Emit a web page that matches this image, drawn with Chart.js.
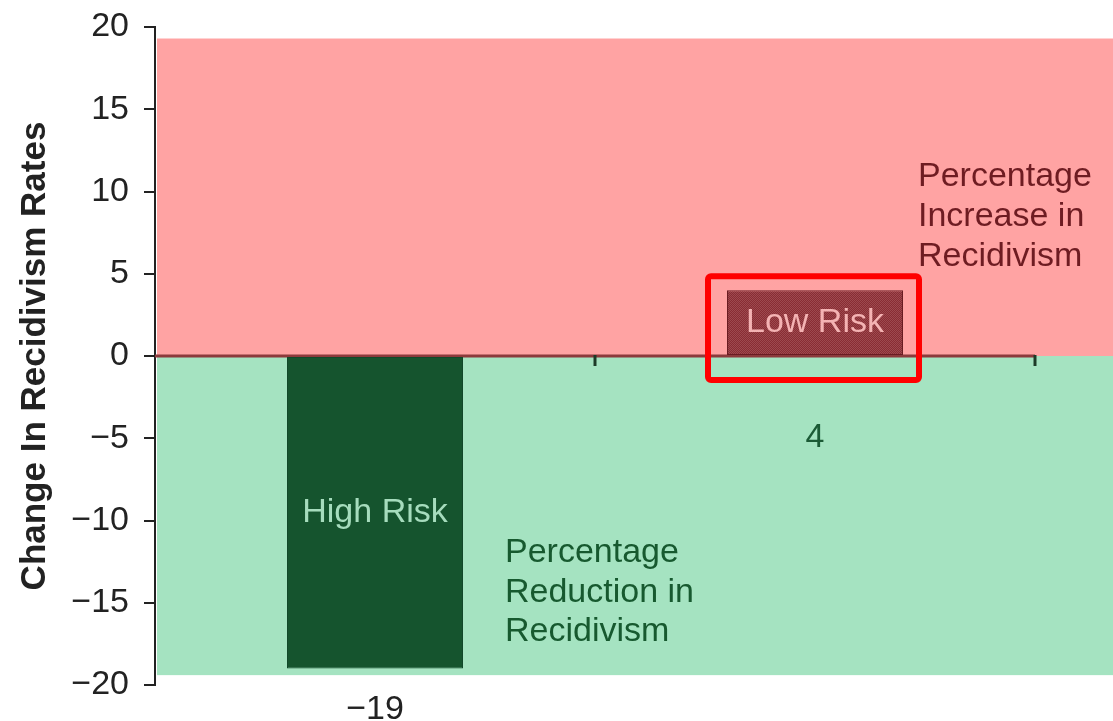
<!DOCTYPE html>
<html>
<head>
<meta charset="utf-8">
<script src="https://cdn.jsdelivr.net/npm/chart.js@4.4.0/dist/chart.umd.min.js"></script>
<style>
  html, body { margin: 0; padding: 0; background: #ffffff; }
  canvas { display: block; }
</style>
</head>
<body>
<canvas id="chart" width="1113" height="721"></canvas>
<script>
// Change in recidivism by risk group
const categories = ['High Risk', 'Low Risk'];
const recidivismChange = [-19, 4];
const yTicks = [-20, -15, -10, -5, 0, 5, 10, 15, 20];
const axisTitle = 'Change In Recidivism Rates';
const increaseNote = ['Percentage', 'Increase in', 'Recidivism'];
const reductionNote = ['Percentage', 'Reduction in', 'Recidivism'];

const FONT = '"Liberation Sans", Arial, Helvetica, sans-serif';
const minus = s => String(s).replace('-', '\u2212');

// halftone-like fill for the low-risk bar
function dotPattern(a, b) {
  const c = document.createElement('canvas');
  c.width = 2; c.height = 2;
  const g = c.getContext('2d');
  g.fillStyle = a; g.fillRect(0, 0, 2, 2);
  g.fillStyle = b; g.fillRect(0, 0, 1, 1); g.fillRect(1, 1, 1, 1);
  return g.createPattern(c, 'repeat');
}

const ctx0 = document.getElementById('chart').getContext('2d');
const lowRiskFill = dotPattern('#8a2c33', '#9c4a4f');

// shaded increase / reduction zones, zero line and boundary ticks
const zones = {
  id: 'zones',
  beforeDatasetsDraw(chart) {
    const { ctx, chartArea: a, scales: { x, y } } = chart;
    const zero = y.getPixelForValue(0);
    const top = y.getPixelForValue(19.3);
    const bottom = y.getPixelForValue(-19.4);
    const x0 = a.left + 2;
    ctx.save();
    ctx.fillStyle = '#ffa3a3';
    ctx.fillRect(x0, top, chart.width - x0, zero - top);
    ctx.fillStyle = '#a5e3c1';
    ctx.fillRect(x0, zero, chart.width - x0, bottom - zero);

    ctx.strokeStyle = '#8c3a3c';
    ctx.lineWidth = 3;
    ctx.beginPath();
    ctx.moveTo(a.left, zero);
    ctx.lineTo(a.right, zero);
    ctx.stroke();

    ctx.strokeStyle = '#1d3a28';
    ctx.lineWidth = 3;
    const edges = [];
    for (let i = 1; i < categories.length; i++) {
      edges.push((x.getPixelForValue(i - 1) + x.getPixelForValue(i)) / 2);
    }
    edges.push(a.right);
    edges.forEach(px => {
      ctx.beginPath();
      ctx.moveTo(px, zero - 1);
      ctx.lineTo(px, zero + 10);
      ctx.stroke();
    });
    ctx.restore();
  }
};

// bar names, value labels, zone notes and highlight box
const annotations = {
  id: 'annotations',
  afterDatasetsDraw(chart) {
    const { ctx, scales: { y } } = chart;
    const bars = chart.getDatasetMeta(0).data;
    const zero = y.getPixelForValue(0);
    ctx.save();
    ctx.font = `34px ${FONT}`;
    ctx.textAlign = 'center';
    ctx.textBaseline = 'middle';

    bars.forEach((bar, i) => {
      const v = recidivismChange[i];
      const mid = (bar.y + bar.base) / 2;
      ctx.fillStyle = v < 0 ? '#a6dcbd' : '#f4b3b3';
      ctx.fillText(categories[i], bar.x, mid);
      if (v < 0) {
        ctx.fillStyle = '#222222';
        ctx.fillText(minus(v), bar.x, bar.y + 41);
      } else {
        ctx.fillStyle = '#1b5a35';
        ctx.fillText(minus(v), bar.x, zero + 82);
      }
    });

    // zone notes
    ctx.textAlign = 'left';
    ctx.fillStyle = '#6e1c22';
    increaseNote.forEach((t, k) => ctx.fillText(t, 918, 177 + k * 40));
    ctx.fillStyle = '#17592f';
    reductionNote.forEach((t, k) => ctx.fillText(t, 505, 553 + k * 39.5));

    // highlight around the low-risk bar
    const lb = bars[1];
    const l = lb.x - lb.width / 2 - 19;
    const r = lb.x + lb.width / 2 + 16;
    const t = lb.y - 14;
    const b = lb.base + 25;
    ctx.strokeStyle = '#ff0000';
    ctx.lineWidth = 6;
    ctx.beginPath();
    ctx.roundRect(l, t, r - l, b - t, 3);
    ctx.stroke();
    ctx.restore();
  }
};

new Chart(ctx0, {
  type: 'bar',
  data: {
    labels: categories,
    datasets: [{
      data: recidivismChange,
      backgroundColor: ['#15542e', lowRiskFill],
      borderColor: ['#11482a', '#6a1c22'],
      borderWidth: 1,
      borderSkipped: false,
      barPercentage: 0.4,
      categoryPercentage: 1.0
    }]
  },
  options: {
    responsive: false,
    devicePixelRatio: 1,
    animation: false,
    layout: { padding: { top: 27, right: 78, bottom: 36, left: 0 } },
    plugins: {
      legend: { display: false },
      tooltip: { enabled: false },
      title: { display: false }
    },
    scales: {
      x: { display: false, offset: true },
      y: {
        min: yTicks[0],
        max: yTicks[yTicks.length - 1],
        afterBuildTicks(scale) {
          scale.ticks = yTicks.map(v => ({ value: v }));
        },
        afterFit(scale) {
          scale.width = 155;
          scale.paddingTop = 0;
          scale.paddingBottom = 0;
        },
        border: { display: true, color: '#222222', width: 2 },
        grid: {
          display: true,
          drawOnChartArea: false,
          drawTicks: true,
          tickLength: 11,
          color: '#222222',
          lineWidth: 2
        },
        ticks: {
          padding: 15,
          color: '#222222',
          font: { family: FONT, size: 34 },
          callback: v => minus(v)
        },
        title: {
          display: true,
          text: axisTitle,
          color: '#222222',
          font: { family: FONT, size: 35, weight: 'bold' },
          padding: { top: 14, bottom: 0 }
        }
      }
    }
  },
  plugins: [zones, annotations]
});
</script>
</body>
</html>
